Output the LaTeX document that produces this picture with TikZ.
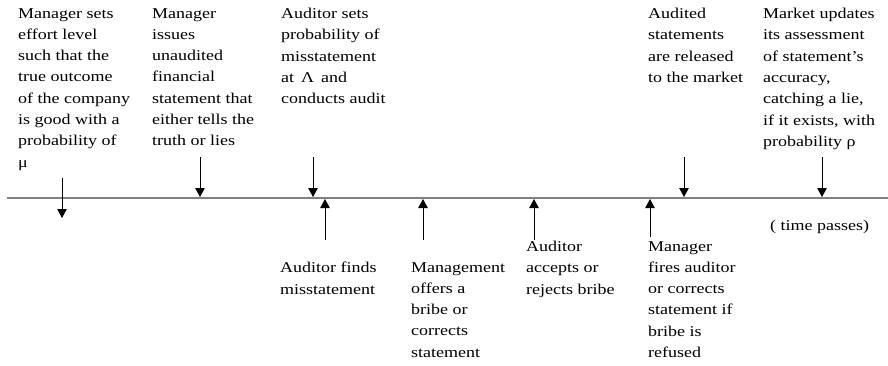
\documentclass[tikz,border=0pt]{standalone}
\usepackage{fontspec}
\setmainfont[FakeStretch=1.2]{Liberation Serif}
\usetikzlibrary{arrows.meta}
\definecolor{axis}{HTML}{808080}
\tikzset{
  event/.style={anchor=north west,inner sep=0pt,align=left,font=\fontsize{15}{21.3}\selectfont},
  tick/.style={-{Triangle[width=9.5pt,length=9pt]},line width=0.9pt},
}

\begin{document}
\begin{tikzpicture}[x=1pt,y=-1pt]
\useasboundingbox (0,0) rectangle (888,365);

% time line
\coordinate (start) at (7,198);
\coordinate (end) at (888,198);
\draw[axis,line width=2pt] (start) -- (end);

% events above the line
\node[event] (effort) at (18,8) {Manager sets\\effort level\\such that the\\true outcome\\of the company\\is good with a\\probability of\\μ};
\node[event] (issue) at (152,8) {Manager\\issues\\unaudited\\financial\\statement that\\either tells the\\truth or lies};
\node[event] (audit) at (281,8) {Auditor sets\\probability of\\misstatement\\at \,Λ\, and\\conducts audit};
\node[event] (release) at (648,8) {Audited\\statements\\are released\\to the market};
\node[event] (update) at (763,8) {Market updates\\its assessment\\of statement’s\\accuracy,\\catching a lie,\\if it exists, with\\probability ρ};

% events below the line
\node[event] (finds) at (280,262) {Auditor finds\\misstatement};
\node[event] (offer) at (411,262) {Management\\offers a\\bribe or\\corrects\\statement};
\node[event] (accept) at (526,241) {Auditor\\accepts or\\rejects bribe};
\node[event] (fire) at (648,241) {Manager\\fires auditor\\or corrects\\statement if\\bribe is\\refused};
\node[event] (passes) at (770,220) {( time passes)};

% arrows
\coordinate (e top) at (62,178);
\coordinate (e) at (62,218);
\draw[tick] (e top) -- (e);
\foreach \n/\x in {i/200,a/313,r/684,u/822} {
  \coordinate (\n top) at (\x,157);
  \coordinate (\n) at (\x,197);
  \draw[tick] (\n top) -- (\n);
}
\foreach \n/\x/\y in {f/325/240,o/423/240,b/534/240,c/650/237} {
  \coordinate (\n bot) at (\x,\y);
  \coordinate (\n) at (\x,199);
  \draw[tick] (\n bot) -- (\n);
}
\end{tikzpicture}
\end{document}
